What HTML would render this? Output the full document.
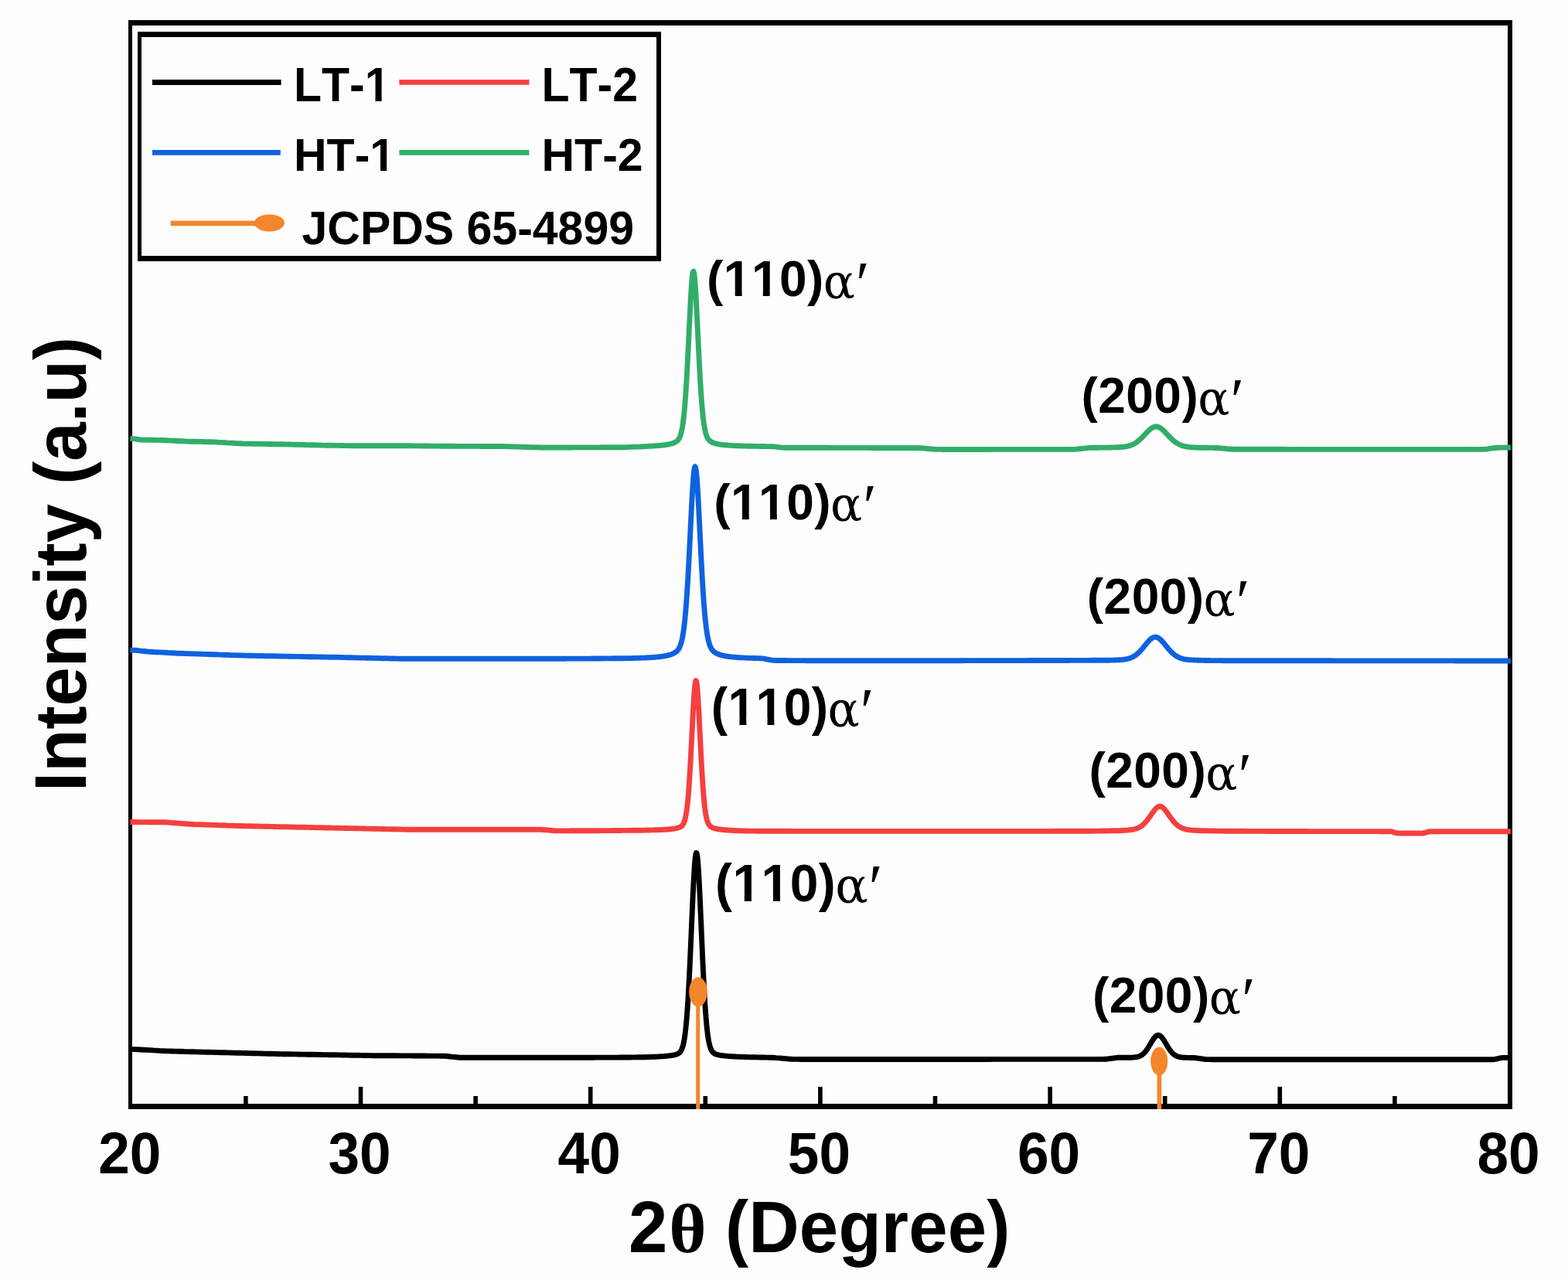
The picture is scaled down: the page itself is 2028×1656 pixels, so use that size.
<!DOCTYPE html>
<html><head><meta charset="utf-8"><title>XRD patterns</title>
<style>html,body{margin:0;padding:0;background:#fdfdfd;}body{width:2028px;height:1656px;overflow:hidden;}svg{display:block;}text{font-kerning:none;}</style>
</head><body>
<svg width="2028" height="1656" viewBox="0 0 2028 1656"><rect x="0" y="0" width="2028" height="1656" fill="#fdfdfd"/>
<g fill="#000">
<rect x="166" y="26" width="1790" height="7"/>
<rect x="166" y="1428" width="1790" height="7"/>
<rect x="166" y="26" width="5" height="1409"/>
<rect x="1950" y="26" width="6" height="1409"/>
<rect x="463.7" y="1406" width="5.6" height="24"/>
<rect x="760.9" y="1406" width="5.6" height="24"/>
<rect x="1058.1" y="1406" width="5.6" height="24"/>
<rect x="1355.3" y="1406" width="5.6" height="24"/>
<rect x="1652.5" y="1406" width="5.6" height="24"/>
<rect x="315.1" y="1418" width="5.6" height="12"/>
<rect x="612.3" y="1418" width="5.6" height="12"/>
<rect x="909.5" y="1418" width="5.6" height="12"/>
<rect x="1206.7" y="1418" width="5.6" height="12"/>
<rect x="1503.9" y="1418" width="5.6" height="12"/>
<rect x="1801.1" y="1418" width="5.6" height="12"/>
</g>
<polyline points="168.5,567.2 170.5,567.4 174.5,567.9 178.5,568.5 182.5,569.0 186.5,569.1 190.5,569.2 194.5,569.3 198.5,569.3 202.5,569.4 206.5,569.4 210.5,569.5 214.5,569.7 218.5,569.9 222.5,570.1 226.5,570.3 230.5,570.5 234.5,570.7 238.5,570.9 242.5,571.1 246.5,571.2 250.5,571.2 254.5,571.3 258.5,571.4 262.5,571.5 266.5,571.6 270.5,571.7 274.5,571.8 278.5,571.9 282.5,572.2 286.5,572.4 290.5,572.6 294.5,572.9 298.5,573.1 302.5,573.3 306.5,573.6 310.5,573.8 314.5,574.0 318.5,574.1 322.5,574.1 326.5,574.2 330.5,574.2 334.5,574.3 338.5,574.4 342.5,574.4 346.5,574.5 350.5,574.5 354.5,574.6 358.5,574.7 362.5,574.7 366.5,574.8 370.5,574.9 374.5,575.0 378.5,575.1 382.5,575.2 386.5,575.3 390.5,575.4 394.5,575.5 398.5,575.6 402.5,575.7 406.5,575.8 410.5,575.9 414.5,576.0 418.5,576.1 422.5,576.2 426.5,576.3 430.5,576.3 434.5,576.4 438.5,576.4 442.5,576.5 446.5,576.6 450.5,576.6 454.5,576.7 458.5,576.8 462.5,576.8 466.5,576.8 470.5,576.8 474.5,576.8 478.5,576.8 482.5,576.8 486.5,576.8 490.5,576.8 494.5,576.8 498.5,576.8 502.5,576.8 506.5,576.8 510.5,576.8 514.5,576.8 518.5,576.8 522.5,576.8 526.5,576.8 530.5,576.8 534.5,576.9 538.5,576.9 542.5,576.9 546.5,577.0 550.5,577.0 554.5,577.0 558.5,577.1 562.5,577.1 566.5,577.1 570.5,577.2 574.5,577.2 578.5,577.3 582.5,577.3 586.5,577.3 590.5,577.4 594.5,577.4 598.5,577.4 602.5,577.4 606.5,577.4 610.5,577.4 614.5,577.4 618.5,577.4 622.5,577.5 626.5,577.5 630.5,577.5 634.5,577.5 638.5,577.5 642.5,577.5 646.5,577.5 650.5,577.5 654.5,577.6 658.5,577.7 662.5,577.9 666.5,578.0 670.5,578.1 674.5,578.2 678.5,578.4 682.5,578.5 686.5,578.6 690.5,578.7 694.5,578.8 698.5,579.0 702.5,579.0 706.5,579.0 710.5,579.0 714.5,579.0 718.5,579.0 722.5,579.0 726.5,579.0 730.5,579.0 734.5,579.0 738.5,579.0 742.5,578.9 746.5,578.9 750.5,578.9 754.5,578.9 758.5,578.9 762.5,578.9 766.5,578.9 770.5,578.9 774.5,578.9 778.5,578.8 782.5,578.8 786.5,578.8 790.5,578.8 794.5,578.8 798.5,578.7 802.5,578.7 806.5,578.7 810.5,578.6 814.5,578.4 818.5,578.3 822.5,578.1 826.5,578.0 830.5,577.8 834.5,577.6 838.5,577.4 840.0,577.3 840.5,577.3 841.0,577.3 841.5,577.2 842.0,577.2 842.5,577.2 843.0,577.1 843.5,577.1 844.0,577.1 844.5,577.0 845.0,577.0 845.5,577.0 846.0,576.9 846.5,576.9 847.0,576.9 847.5,576.8 848.0,576.8 848.5,576.7 849.0,576.7 849.5,576.7 850.0,576.6 850.5,576.6 851.0,576.5 851.5,576.5 852.0,576.5 852.5,576.4 853.0,576.4 853.5,576.3 854.0,576.3 854.5,576.3 855.0,576.2 855.5,576.2 856.0,576.1 856.5,576.1 857.0,576.0 857.5,575.9 858.0,575.9 858.5,575.8 859.0,575.8 859.5,575.7 860.0,575.6 860.5,575.6 861.0,575.5 861.5,575.4 862.0,575.3 862.5,575.3 863.0,575.2 863.5,575.1 864.0,575.0 864.5,574.9 865.0,574.8 865.5,574.7 866.0,574.6 866.5,574.5 867.0,574.4 867.5,574.2 868.0,574.1 868.5,574.0 869.0,573.8 869.5,573.7 870.0,573.5 870.5,573.3 871.0,573.2 871.5,573.0 872.0,572.7 872.5,572.5 873.0,572.3 873.5,572.0 874.0,571.7 874.5,571.4 875.0,571.0 875.5,570.6 876.0,570.2 876.5,569.7 877.0,569.1 877.5,568.4 878.0,567.7 878.5,566.8 879.0,565.8 879.5,564.6 880.0,563.3 880.5,561.7 881.0,559.9 881.5,557.9 882.0,555.5 882.5,552.8 883.0,549.7 883.5,546.2 884.0,542.3 884.5,537.8 885.0,532.9 885.5,527.5 886.0,521.4 886.5,514.8 887.0,507.7 887.5,500.0 888.0,491.7 888.5,482.9 889.0,473.6 889.5,463.9 890.0,453.9 890.5,443.6 891.0,433.2 891.5,422.7 892.0,412.3 892.5,402.2 893.0,392.4 893.5,383.3 894.0,375.0 894.5,367.6 895.0,361.4 895.5,356.6 896.0,353.1 896.5,351.3 897.0,351.1 897.5,352.6 898.0,355.6 898.5,360.1 899.0,366.0 899.5,373.1 900.0,381.2 900.5,390.2 901.0,399.7 901.5,409.8 902.0,420.1 902.5,430.6 903.0,441.1 903.5,451.4 904.0,461.5 904.5,471.3 905.0,480.6 905.5,489.5 906.0,497.9 906.5,505.8 907.0,513.1 907.5,519.8 908.0,526.0 908.5,531.5 909.0,536.6 909.5,541.1 910.0,545.2 910.5,548.8 911.0,552.0 911.5,554.7 912.0,557.2 912.5,559.3 913.0,561.2 913.5,562.8 914.0,564.2 914.5,565.4 915.0,566.4 915.5,567.3 916.0,568.1 916.5,568.8 917.0,569.4 917.5,569.9 918.0,570.3 918.5,570.8 919.0,571.1 919.5,571.4 920.0,571.7 920.5,572.0 921.0,572.2 921.5,572.5 922.0,572.7 922.5,572.9 923.0,573.1 923.5,573.2 924.0,573.4 924.5,573.5 925.0,573.7 925.5,573.8 926.0,573.9 926.5,574.1 927.0,574.2 927.5,574.3 928.0,574.4 928.5,574.5 929.0,574.6 929.5,574.7 930.0,574.8 930.5,574.9 931.0,574.9 931.5,575.0 932.0,575.1 932.5,575.2 933.0,575.2 933.5,575.3 934.0,575.4 934.5,575.4 935.0,575.5 935.5,575.5 936.0,575.6 936.5,575.6 937.0,575.7 937.5,575.7 938.0,575.8 938.5,575.8 939.0,575.9 939.5,575.9 940.0,575.9 940.5,576.0 941.0,576.0 941.5,576.1 942.0,576.1 942.5,576.1 943.0,576.2 943.5,576.2 944.0,576.3 944.5,576.3 945.0,576.3 945.5,576.4 946.0,576.4 946.5,576.4 947.0,576.4 947.5,576.5 948.0,576.5 948.5,576.5 949.0,576.5 949.5,576.6 950.0,576.6 950.5,576.6 951.0,576.6 951.5,576.7 952.0,576.7 952.5,576.7 953.0,576.7 953.5,576.8 954.0,576.8 954.5,576.8 955.0,576.8 955.5,576.8 956.0,576.9 956.5,576.9 957.0,576.9 957.5,576.9 958.0,576.9 958.5,576.9 959.0,577.0 959.5,577.0 960.0,577.0 964.0,577.1 968.0,577.2 972.0,577.3 976.0,577.4 980.0,577.4 984.0,577.5 988.0,577.5 992.0,577.6 996.0,577.6 1000.0,577.7 1004.0,578.2 1008.0,578.6 1012.0,579.1 1016.0,579.2 1020.0,579.2 1024.0,579.2 1028.0,579.2 1032.0,579.2 1036.0,579.2 1040.0,579.3 1044.0,579.3 1048.0,579.3 1052.0,579.3 1056.0,579.3 1060.0,579.3 1064.0,579.3 1068.0,579.3 1072.0,579.3 1076.0,579.4 1080.0,579.4 1084.0,579.4 1088.0,579.4 1092.0,579.4 1096.0,579.4 1100.0,579.4 1104.0,579.4 1108.0,579.4 1112.0,579.4 1116.0,579.4 1120.0,579.4 1124.0,579.4 1128.0,579.5 1132.0,579.5 1136.0,579.5 1140.0,579.5 1144.0,579.5 1148.0,579.5 1152.0,579.5 1156.0,579.5 1160.0,579.5 1164.0,579.5 1168.0,579.5 1172.0,579.5 1176.0,579.5 1180.0,579.5 1184.0,579.5 1188.0,579.5 1192.0,579.7 1196.0,580.1 1200.0,580.5 1204.0,580.9 1208.0,581.3 1212.0,581.4 1216.0,581.4 1220.0,581.5 1224.0,581.5 1228.0,581.5 1232.0,581.5 1236.0,581.5 1240.0,581.5 1244.0,581.5 1248.0,581.5 1252.0,581.5 1256.0,581.5 1260.0,581.5 1264.0,581.5 1268.0,581.5 1272.0,581.5 1276.0,581.5 1280.0,581.5 1284.0,581.4 1288.0,581.4 1292.0,581.4 1296.0,581.4 1300.0,581.4 1304.0,581.4 1308.0,581.4 1312.0,581.4 1316.0,581.4 1320.0,581.4 1324.0,581.4 1328.0,581.4 1332.0,581.4 1336.0,581.4 1340.0,581.4 1344.0,581.4 1348.0,581.4 1352.0,581.4 1356.0,581.4 1360.0,581.4 1364.0,581.4 1368.0,581.4 1372.0,581.4 1376.0,581.4 1380.0,581.4 1384.0,581.4 1388.0,581.4 1392.0,581.2 1396.0,580.7 1400.0,580.3 1404.0,579.9 1408.0,579.4 1412.0,579.2 1416.0,579.2 1420.0,579.2 1421.0,579.1 1422.0,579.1 1423.0,579.1 1424.0,579.1 1425.0,579.1 1426.0,579.1 1427.0,579.1 1428.0,579.1 1429.0,579.1 1430.0,579.1 1431.0,579.0 1432.0,579.0 1433.0,579.0 1434.0,579.0 1435.0,579.0 1436.0,579.0 1437.0,579.0 1438.0,578.9 1439.0,578.9 1440.0,578.9 1441.0,578.9 1442.0,578.8 1443.0,578.8 1444.0,578.8 1445.0,578.7 1446.0,578.7 1447.0,578.7 1448.0,578.6 1449.0,578.5 1450.0,578.5 1451.0,578.4 1452.0,578.3 1453.0,578.2 1454.0,578.1 1455.0,577.9 1456.0,577.8 1457.0,577.6 1458.0,577.4 1459.0,577.2 1460.0,576.9 1461.0,576.6 1462.0,576.3 1463.0,575.9 1464.0,575.5 1465.0,575.1 1466.0,574.6 1467.0,574.1 1468.0,573.5 1469.0,572.8 1470.0,572.2 1471.0,571.4 1472.0,570.6 1473.0,569.8 1474.0,568.9 1475.0,568.0 1476.0,567.1 1477.0,566.1 1478.0,565.0 1479.0,564.0 1480.0,562.9 1481.0,561.9 1482.0,560.8 1483.0,559.8 1484.0,558.7 1485.0,557.7 1486.0,556.8 1487.0,555.9 1488.0,555.0 1489.0,554.3 1490.0,553.6 1491.0,553.0 1492.0,552.6 1493.0,552.2 1494.0,552.0 1495.0,551.9 1496.0,551.9 1497.0,552.1 1498.0,552.4 1499.0,552.8 1500.0,553.3 1501.0,553.9 1502.0,554.6 1503.0,555.4 1504.0,556.3 1505.0,557.2 1506.0,558.2 1507.0,559.2 1508.0,560.2 1509.0,561.3 1510.0,562.4 1511.0,563.4 1512.0,564.5 1513.0,565.5 1514.0,566.5 1515.0,567.5 1516.0,568.5 1517.0,569.4 1518.0,570.2 1519.0,571.1 1520.0,571.8 1521.0,572.5 1522.0,573.2 1523.0,573.8 1524.0,574.4 1525.0,574.9 1526.0,575.4 1527.0,575.8 1528.0,576.2 1529.0,576.6 1530.0,576.9 1531.0,577.2 1532.0,577.4 1533.0,577.6 1534.0,577.8 1535.0,578.0 1536.0,578.2 1537.0,578.3 1538.0,578.4 1539.0,578.5 1540.0,578.6 1541.0,578.7 1542.0,578.8 1543.0,578.8 1544.0,578.9 1545.0,578.9 1546.0,579.0 1547.0,579.0 1548.0,579.0 1549.0,579.1 1550.0,579.1 1551.0,579.1 1552.0,579.2 1553.0,579.2 1554.0,579.2 1555.0,579.2 1556.0,579.2 1557.0,579.3 1558.0,579.3 1559.0,579.3 1560.0,579.3 1561.0,579.3 1562.0,579.3 1563.0,579.4 1564.0,579.4 1565.0,579.4 1566.0,579.4 1567.0,579.4 1568.0,579.4 1569.0,579.4 1570.0,579.4 1571.0,579.5 1572.0,579.5 1573.0,579.5 1574.0,579.5 1575.0,579.5 1576.0,579.6 1577.0,579.7 1578.0,579.8 1579.0,579.9 1580.0,580.0 1584.0,580.3 1588.0,580.7 1592.0,581.0 1596.0,581.3 1600.0,581.3 1604.0,581.3 1608.0,581.3 1612.0,581.3 1616.0,581.3 1620.0,581.3 1624.0,581.3 1628.0,581.3 1632.0,581.3 1636.0,581.3 1640.0,581.3 1644.0,581.3 1648.0,581.3 1652.0,581.3 1656.0,581.3 1660.0,581.3 1664.0,581.4 1668.0,581.4 1672.0,581.4 1676.0,581.4 1680.0,581.4 1684.0,581.4 1688.0,581.4 1692.0,581.4 1696.0,581.4 1700.0,581.4 1704.0,581.4 1708.0,581.4 1712.0,581.4 1716.0,581.4 1720.0,581.4 1724.0,581.4 1728.0,581.4 1732.0,581.4 1736.0,581.4 1740.0,581.4 1744.0,581.4 1748.0,581.4 1752.0,581.4 1756.0,581.4 1760.0,581.4 1764.0,581.4 1768.0,581.4 1772.0,581.4 1776.0,581.4 1780.0,581.4 1784.0,581.4 1788.0,581.4 1792.0,581.4 1796.0,581.4 1800.0,581.4 1804.0,581.4 1808.0,581.4 1812.0,581.4 1816.0,581.4 1820.0,581.4 1824.0,581.4 1828.0,581.4 1832.0,581.4 1836.0,581.4 1840.0,581.4 1844.0,581.4 1848.0,581.4 1852.0,581.4 1856.0,581.4 1860.0,581.4 1864.0,581.4 1868.0,581.4 1872.0,581.4 1876.0,581.4 1880.0,581.4 1884.0,581.4 1888.0,581.4 1892.0,581.4 1896.0,581.4 1900.0,581.4 1904.0,581.4 1908.0,581.4 1912.0,581.4 1916.0,581.4 1920.0,581.4 1924.0,580.8 1928.0,580.2 1932.0,579.6 1936.0,579.2 1940.0,579.1 1944.0,579.1 1948.0,579.0 1952.0,579.0 1953.9,579.0" fill="none" stroke="#31AD6A" stroke-width="6.9" stroke-linejoin="round" stroke-linecap="butt"/>
<polyline points="168.5,841.0 170.5,841.1 174.5,841.3 178.5,841.6 182.5,842.1 186.5,842.5 190.5,843.0 194.5,843.2 198.5,843.5 202.5,843.7 206.5,843.9 210.5,844.1 214.5,844.3 218.5,844.6 222.5,844.8 226.5,845.0 230.5,845.2 234.5,845.3 238.5,845.5 242.5,845.6 246.5,845.7 250.5,845.9 254.5,846.0 258.5,846.1 262.5,846.3 266.5,846.4 270.5,846.5 274.5,846.7 278.5,846.8 282.5,846.9 286.5,847.1 290.5,847.2 294.5,847.3 298.5,847.5 302.5,847.6 306.5,847.7 310.5,847.9 314.5,848.0 318.5,848.1 322.5,848.2 326.5,848.3 330.5,848.4 334.5,848.5 338.5,848.5 342.5,848.6 346.5,848.7 350.5,848.8 354.5,848.8 358.5,848.9 362.5,849.0 366.5,849.1 370.5,849.1 374.5,849.2 378.5,849.3 382.5,849.4 386.5,849.4 390.5,849.5 394.5,849.6 398.5,849.7 402.5,849.7 406.5,849.8 410.5,849.9 414.5,850.0 418.5,850.0 422.5,850.1 426.5,850.2 430.5,850.3 434.5,850.3 438.5,850.4 442.5,850.5 446.5,850.6 450.5,850.7 454.5,850.8 458.5,850.9 462.5,851.0 466.5,851.1 470.5,851.1 474.5,851.2 478.5,851.3 482.5,851.4 486.5,851.5 490.5,851.6 494.5,851.7 498.5,851.8 502.5,851.9 506.5,852.0 510.5,852.0 514.5,852.1 518.5,852.2 522.5,852.3 526.5,852.3 530.5,852.3 534.5,852.3 538.5,852.3 542.5,852.3 546.5,852.3 550.5,852.3 554.5,852.3 558.5,852.3 562.5,852.3 566.5,852.3 570.5,852.3 574.5,852.3 578.5,852.3 582.5,852.3 586.5,852.3 590.5,852.3 594.5,852.3 598.5,852.3 602.5,852.3 606.5,852.3 610.5,852.3 614.5,852.3 618.5,852.3 622.5,852.3 626.5,852.3 630.5,852.2 634.5,852.2 638.5,852.2 642.5,852.2 646.5,852.2 650.5,852.2 654.5,852.2 658.5,852.2 662.5,852.2 666.5,852.2 670.5,852.2 674.5,852.2 678.5,852.2 682.5,852.2 686.5,852.2 690.5,852.2 694.5,852.2 698.5,852.2 702.5,852.2 706.5,852.2 710.5,852.2 714.5,852.2 718.5,852.2 722.5,852.2 726.5,852.2 730.5,852.2 734.5,852.1 738.5,852.1 742.5,852.1 746.5,852.1 750.5,852.1 754.5,852.1 758.5,852.1 762.5,852.1 766.5,852.0 770.5,852.0 774.5,852.0 778.5,852.0 782.5,851.9 786.5,851.9 790.5,851.9 794.5,851.8 798.5,851.8 802.5,851.7 806.5,851.7 810.5,851.6 814.5,851.6 818.5,851.5 822.5,851.4 826.5,851.3 830.5,851.1 834.5,851.0 838.5,850.8 840.0,850.7 840.5,850.7 841.0,850.7 841.5,850.6 842.0,850.6 842.5,850.6 843.0,850.5 843.5,850.5 844.0,850.5 844.5,850.4 845.0,850.4 845.5,850.4 846.0,850.3 846.5,850.3 847.0,850.2 847.5,850.2 848.0,850.2 848.5,850.1 849.0,850.1 849.5,850.0 850.0,850.0 850.5,849.9 851.0,849.9 851.5,849.8 852.0,849.8 852.5,849.7 853.0,849.7 853.5,849.6 854.0,849.5 854.5,849.5 855.0,849.4 855.5,849.4 856.0,849.3 856.5,849.2 857.0,849.1 857.5,849.1 858.0,849.0 858.5,848.9 859.0,848.8 859.5,848.7 860.0,848.7 860.5,848.6 861.0,848.5 861.5,848.4 862.0,848.3 862.5,848.1 863.0,848.0 863.5,847.9 864.0,847.8 864.5,847.7 865.0,847.5 865.5,847.4 866.0,847.3 866.5,847.1 867.0,846.9 867.5,846.8 868.0,846.6 868.5,846.4 869.0,846.2 869.5,846.0 870.0,845.8 870.5,845.6 871.0,845.4 871.5,845.1 872.0,844.8 872.5,844.6 873.0,844.3 873.5,843.9 874.0,843.6 874.5,843.2 875.0,842.7 875.5,842.3 876.0,841.8 876.5,841.2 877.0,840.6 877.5,839.9 878.0,839.1 878.5,838.2 879.0,837.2 879.5,836.0 880.0,834.8 880.5,833.3 881.0,831.7 881.5,829.8 882.0,827.8 882.5,825.5 883.0,822.8 883.5,819.9 884.0,816.7 884.5,813.0 885.0,809.0 885.5,804.6 886.0,799.7 886.5,794.4 887.0,788.6 887.5,782.3 888.0,775.5 888.5,768.2 889.0,760.5 889.5,752.3 890.0,743.6 890.5,734.5 891.0,725.1 891.5,715.4 892.0,705.4 892.5,695.3 893.0,685.1 893.5,674.9 894.0,664.8 894.5,655.1 895.0,645.7 895.5,636.9 896.0,628.8 896.5,621.6 897.0,615.4 897.5,610.5 898.0,606.8 898.5,604.5 899.0,603.7 899.5,604.4 900.0,606.5 900.5,610.1 901.0,615.0 901.5,621.1 902.0,628.2 902.5,636.2 903.0,645.0 903.5,654.3 904.0,664.1 904.5,674.1 905.0,684.3 905.5,694.5 906.0,704.6 906.5,714.6 907.0,724.4 907.5,733.8 908.0,742.9 908.5,751.6 909.0,759.9 909.5,767.6 910.0,775.0 910.5,781.8 911.0,788.1 911.5,793.9 912.0,799.3 912.5,804.2 913.0,808.7 913.5,812.8 914.0,816.4 914.5,819.7 915.0,822.7 915.5,825.3 916.0,827.6 916.5,829.7 917.0,831.6 917.5,833.2 918.0,834.7 918.5,836.0 919.0,837.1 919.5,838.1 920.0,839.0 920.5,839.8 921.0,840.6 921.5,841.2 922.0,841.8 922.5,842.3 923.0,842.8 923.5,843.2 924.0,843.6 924.5,843.9 925.0,844.3 925.5,844.6 926.0,844.9 926.5,845.2 927.0,845.4 927.5,845.6 928.0,845.9 928.5,846.1 929.0,846.3 929.5,846.5 930.0,846.7 930.5,846.8 931.0,847.0 931.5,847.2 932.0,847.3 932.5,847.5 933.0,847.6 933.5,847.7 934.0,847.9 934.5,848.0 935.0,848.1 935.5,848.2 936.0,848.3 936.5,848.4 937.0,848.5 937.5,848.6 938.0,848.7 938.5,848.8 939.0,848.9 939.5,849.0 940.0,849.1 940.5,849.1 941.0,849.2 941.5,849.3 942.0,849.4 942.5,849.4 943.0,849.5 943.5,849.6 944.0,849.6 944.5,849.7 945.0,849.8 945.5,849.8 946.0,849.9 946.5,849.9 947.0,850.0 947.5,850.0 948.0,850.1 948.5,850.1 949.0,850.2 949.5,850.2 950.0,850.3 950.5,850.3 951.0,850.3 951.5,850.4 952.0,850.4 952.5,850.5 953.0,850.5 953.5,850.5 954.0,850.6 954.5,850.6 955.0,850.6 955.5,850.7 956.0,850.7 956.5,850.7 957.0,850.7 957.5,850.8 958.0,850.8 958.5,850.8 959.0,850.9 959.5,850.9 960.0,850.9 964.0,851.1 968.0,851.3 972.0,851.4 976.0,851.5 980.0,851.6 984.0,851.7 988.0,852.2 992.0,853.0 996.0,853.7 1000.0,854.4 1004.0,854.5 1008.0,854.5 1012.0,854.5 1016.0,854.5 1020.0,854.6 1024.0,854.6 1028.0,854.6 1032.0,854.6 1036.0,854.6 1040.0,854.6 1044.0,854.7 1048.0,854.7 1052.0,854.7 1056.0,854.7 1060.0,854.7 1064.0,854.7 1068.0,854.7 1072.0,854.7 1076.0,854.7 1080.0,854.7 1084.0,854.7 1088.0,854.7 1092.0,854.7 1096.0,854.7 1100.0,854.7 1104.0,854.7 1108.0,854.7 1112.0,854.7 1116.0,854.7 1120.0,854.7 1124.0,854.7 1128.0,854.7 1132.0,854.7 1136.0,854.7 1140.0,854.7 1144.0,854.7 1148.0,854.7 1152.0,854.7 1156.0,854.7 1160.0,854.7 1164.0,854.7 1168.0,854.7 1172.0,854.7 1176.0,854.7 1180.0,854.7 1184.0,854.7 1188.0,854.7 1192.0,854.7 1196.0,854.7 1200.0,854.7 1204.0,854.7 1208.0,854.7 1212.0,854.7 1216.0,854.7 1220.0,854.7 1224.0,854.7 1228.0,854.7 1232.0,854.7 1236.0,854.7 1240.0,854.7 1244.0,854.7 1248.0,854.6 1252.0,854.6 1256.0,854.6 1260.0,854.6 1264.0,854.6 1268.0,854.6 1272.0,854.6 1276.0,854.6 1280.0,854.6 1284.0,854.6 1288.0,854.6 1292.0,854.6 1296.0,854.6 1300.0,854.6 1304.0,854.6 1308.0,854.6 1312.0,854.6 1316.0,854.6 1320.0,854.6 1324.0,854.6 1328.0,854.6 1332.0,854.5 1336.0,854.5 1340.0,854.5 1344.0,854.5 1348.0,854.5 1352.0,854.5 1356.0,854.5 1360.0,854.5 1364.0,854.5 1368.0,854.5 1372.0,854.5 1376.0,854.5 1380.0,854.5 1384.0,854.4 1388.0,854.4 1392.0,854.4 1396.0,854.4 1400.0,854.4 1404.0,854.4 1408.0,854.4 1412.0,854.3 1416.0,854.3 1420.0,854.3 1421.0,854.3 1422.0,854.3 1423.0,854.3 1424.0,854.3 1425.0,854.3 1426.0,854.2 1427.0,854.2 1428.0,854.2 1429.0,854.2 1430.0,854.2 1431.0,854.2 1432.0,854.2 1433.0,854.2 1434.0,854.2 1435.0,854.2 1436.0,854.1 1437.0,854.1 1438.0,854.1 1439.0,854.1 1440.0,854.1 1441.0,854.0 1442.0,854.0 1443.0,854.0 1444.0,853.9 1445.0,853.9 1446.0,853.8 1447.0,853.8 1448.0,853.7 1449.0,853.6 1450.0,853.6 1451.0,853.5 1452.0,853.4 1453.0,853.3 1454.0,853.1 1455.0,853.0 1456.0,852.8 1457.0,852.6 1458.0,852.4 1459.0,852.2 1460.0,851.9 1461.0,851.6 1462.0,851.3 1463.0,850.9 1464.0,850.4 1465.0,850.0 1466.0,849.4 1467.0,848.8 1468.0,848.2 1469.0,847.5 1470.0,846.7 1471.0,845.9 1472.0,845.0 1473.0,844.1 1474.0,843.1 1475.0,842.0 1476.0,840.9 1477.0,839.8 1478.0,838.6 1479.0,837.4 1480.0,836.1 1481.0,834.9 1482.0,833.7 1483.0,832.4 1484.0,831.3 1485.0,830.1 1486.0,829.0 1487.0,828.0 1488.0,827.1 1489.0,826.3 1490.0,825.6 1491.0,825.0 1492.0,824.6 1493.0,824.3 1494.0,824.1 1495.0,824.2 1496.0,824.4 1497.0,824.8 1498.0,825.3 1499.0,825.9 1500.0,826.7 1501.0,827.5 1502.0,828.5 1503.0,829.5 1504.0,830.7 1505.0,831.8 1506.0,833.0 1507.0,834.3 1508.0,835.5 1509.0,836.7 1510.0,838.0 1511.0,839.2 1512.0,840.3 1513.0,841.4 1514.0,842.5 1515.0,843.6 1516.0,844.5 1517.0,845.5 1518.0,846.3 1519.0,847.1 1520.0,847.9 1521.0,848.5 1522.0,849.2 1523.0,849.7 1524.0,850.2 1525.0,850.7 1526.0,851.1 1527.0,851.5 1528.0,851.8 1529.0,852.1 1530.0,852.3 1531.0,852.6 1532.0,852.8 1533.0,853.0 1534.0,853.1 1535.0,853.2 1536.0,853.4 1537.0,853.5 1538.0,853.6 1539.0,853.7 1540.0,853.7 1541.0,853.8 1542.0,853.9 1543.0,853.9 1544.0,854.0 1545.0,854.0 1546.0,854.1 1547.0,854.1 1548.0,854.1 1549.0,854.2 1550.0,854.2 1551.0,854.2 1552.0,854.3 1553.0,854.3 1554.0,854.3 1555.0,854.4 1556.0,854.4 1557.0,854.4 1558.0,854.5 1559.0,854.5 1560.0,854.5 1561.0,854.5 1562.0,854.5 1563.0,854.5 1564.0,854.5 1565.0,854.6 1566.0,854.6 1567.0,854.6 1568.0,854.6 1569.0,854.6 1570.0,854.6 1571.0,854.6 1572.0,854.6 1573.0,854.6 1574.0,854.6 1575.0,854.6 1576.0,854.6 1577.0,854.6 1578.0,854.6 1579.0,854.6 1580.0,854.6 1584.0,854.7 1588.0,854.7 1592.0,854.7 1596.0,854.7 1600.0,854.7 1604.0,854.7 1608.0,854.7 1612.0,854.7 1616.0,854.7 1620.0,854.7 1624.0,854.7 1628.0,854.8 1632.0,854.8 1636.0,854.8 1640.0,854.8 1644.0,854.8 1648.0,854.8 1652.0,854.8 1656.0,854.8 1660.0,854.8 1664.0,854.8 1668.0,854.8 1672.0,854.8 1676.0,854.8 1680.0,854.8 1684.0,854.8 1688.0,854.8 1692.0,854.8 1696.0,854.8 1700.0,854.8 1704.0,854.8 1708.0,854.8 1712.0,854.8 1716.0,854.8 1720.0,854.8 1724.0,854.9 1728.0,854.9 1732.0,854.9 1736.0,854.9 1740.0,854.9 1744.0,854.9 1748.0,854.9 1752.0,854.9 1756.0,854.9 1760.0,854.9 1764.0,854.9 1768.0,854.9 1772.0,854.9 1776.0,854.9 1780.0,854.9 1784.0,854.9 1788.0,854.9 1792.0,854.9 1796.0,854.9 1800.0,854.9 1804.0,854.9 1808.0,854.9 1812.0,854.9 1816.0,854.9 1820.0,854.9 1824.0,854.9 1828.0,854.9 1832.0,854.9 1836.0,854.9 1840.0,854.9 1844.0,854.9 1848.0,854.9 1852.0,854.9 1856.0,854.9 1860.0,854.9 1864.0,854.9 1868.0,854.9 1872.0,854.9 1876.0,854.9 1880.0,854.9 1884.0,855.0 1888.0,855.0 1892.0,855.0 1896.0,855.0 1900.0,855.0 1904.0,855.0 1908.0,855.0 1912.0,855.0 1916.0,855.0 1920.0,855.0 1924.0,855.0 1928.0,855.0 1932.0,855.0 1936.0,855.0 1940.0,855.0 1944.0,855.0 1948.0,855.0 1952.0,855.0 1953.9,855.0" fill="none" stroke="#0F62DE" stroke-width="6.9" stroke-linejoin="round" stroke-linecap="butt"/>
<polyline points="168.5,1063.5 170.5,1063.5 174.5,1063.5 178.5,1063.6 182.5,1063.6 186.5,1063.6 190.5,1063.6 194.5,1063.7 198.5,1063.7 202.5,1063.7 206.5,1063.7 210.5,1063.8 214.5,1063.8 218.5,1064.1 222.5,1064.5 226.5,1064.8 230.5,1065.1 234.5,1065.4 238.5,1065.7 242.5,1066.0 246.5,1066.3 250.5,1066.5 254.5,1066.6 258.5,1066.7 262.5,1066.9 266.5,1067.0 270.5,1067.1 274.5,1067.3 278.5,1067.4 282.5,1067.6 286.5,1067.7 290.5,1067.8 294.5,1068.0 298.5,1068.1 302.5,1068.3 306.5,1068.4 310.5,1068.5 314.5,1068.6 318.5,1068.7 322.5,1068.8 326.5,1068.9 330.5,1069.0 334.5,1069.0 338.5,1069.1 342.5,1069.2 346.5,1069.3 350.5,1069.4 354.5,1069.5 358.5,1069.6 362.5,1069.7 366.5,1069.7 370.5,1069.8 374.5,1069.9 378.5,1070.0 382.5,1070.1 386.5,1070.2 390.5,1070.3 394.5,1070.3 398.5,1070.4 402.5,1070.5 406.5,1070.6 410.5,1070.7 414.5,1070.8 418.5,1070.9 422.5,1071.0 426.5,1071.0 430.5,1071.1 434.5,1071.2 438.5,1071.3 442.5,1071.4 446.5,1071.5 450.5,1071.5 454.5,1071.6 458.5,1071.7 462.5,1071.8 466.5,1071.9 470.5,1072.0 474.5,1072.1 478.5,1072.1 482.5,1072.2 486.5,1072.3 490.5,1072.4 494.5,1072.5 498.5,1072.6 502.5,1072.6 506.5,1072.7 510.5,1072.8 514.5,1072.9 518.5,1073.0 522.5,1073.1 526.5,1073.2 530.5,1073.2 534.5,1073.2 538.5,1073.2 542.5,1073.2 546.5,1073.2 550.5,1073.2 554.5,1073.2 558.5,1073.2 562.5,1073.2 566.5,1073.2 570.5,1073.2 574.5,1073.2 578.5,1073.2 582.5,1073.2 586.5,1073.2 590.5,1073.2 594.5,1073.2 598.5,1073.2 602.5,1073.2 606.5,1073.2 610.5,1073.2 614.5,1073.2 618.5,1073.2 622.5,1073.2 626.5,1073.2 630.5,1073.2 634.5,1073.2 638.5,1073.2 642.5,1073.2 646.5,1073.2 650.5,1073.2 654.5,1073.2 658.5,1073.2 662.5,1073.2 666.5,1073.2 670.5,1073.2 674.5,1073.2 678.5,1073.2 682.5,1073.2 686.5,1073.2 690.5,1073.2 694.5,1073.2 698.5,1073.2 702.5,1073.5 706.5,1073.8 710.5,1074.1 714.5,1074.5 718.5,1074.8 722.5,1074.9 726.5,1074.9 730.5,1074.9 734.5,1074.9 738.5,1074.8 742.5,1074.8 746.5,1074.8 750.5,1074.8 754.5,1074.8 758.5,1074.7 762.5,1074.7 766.5,1074.7 770.5,1074.7 774.5,1074.7 778.5,1074.6 782.5,1074.6 786.5,1074.6 790.5,1074.6 794.5,1074.5 798.5,1074.5 802.5,1074.5 806.5,1074.4 810.5,1074.4 814.5,1074.4 818.5,1074.3 822.5,1074.3 826.5,1074.2 830.5,1074.2 834.5,1074.1 838.5,1074.0 840.0,1074.0 840.5,1074.0 841.0,1074.0 841.5,1073.9 842.0,1073.9 842.5,1073.9 843.0,1073.9 843.5,1073.9 844.0,1073.9 844.5,1073.9 845.0,1073.9 845.5,1073.8 846.0,1073.8 846.5,1073.8 847.0,1073.8 847.5,1073.8 848.0,1073.8 848.5,1073.7 849.0,1073.7 849.5,1073.7 850.0,1073.7 850.5,1073.7 851.0,1073.7 851.5,1073.6 852.0,1073.6 852.5,1073.6 853.0,1073.6 853.5,1073.6 854.0,1073.6 854.5,1073.5 855.0,1073.5 855.5,1073.5 856.0,1073.5 856.5,1073.4 857.0,1073.4 857.5,1073.4 858.0,1073.4 858.5,1073.3 859.0,1073.3 859.5,1073.3 860.0,1073.3 860.5,1073.2 861.0,1073.2 861.5,1073.2 862.0,1073.1 862.5,1073.1 863.0,1073.1 863.5,1073.0 864.0,1073.0 864.5,1072.9 865.0,1072.9 865.5,1072.9 866.0,1072.8 866.5,1072.8 867.0,1072.7 867.5,1072.7 868.0,1072.6 868.5,1072.5 869.0,1072.5 869.5,1072.4 870.0,1072.4 870.5,1072.3 871.0,1072.2 871.5,1072.1 872.0,1072.1 872.5,1072.0 873.0,1071.9 873.5,1071.8 874.0,1071.7 874.5,1071.6 875.0,1071.5 875.5,1071.4 876.0,1071.2 876.5,1071.1 877.0,1070.9 877.5,1070.8 878.0,1070.6 878.5,1070.4 879.0,1070.2 879.5,1070.0 880.0,1069.7 880.5,1069.4 881.0,1069.1 881.5,1068.7 882.0,1068.2 882.5,1067.7 883.0,1067.1 883.5,1066.3 884.0,1065.4 884.5,1064.4 885.0,1063.1 885.5,1061.7 886.0,1059.9 886.5,1057.9 887.0,1055.5 887.5,1052.7 888.0,1049.5 888.5,1045.9 889.0,1041.7 889.5,1036.9 890.0,1031.6 890.5,1025.7 891.0,1019.1 891.5,1012.0 892.0,1004.2 892.5,995.9 893.0,987.1 893.5,977.8 894.0,968.1 894.5,958.2 895.0,948.2 895.5,938.2 896.0,928.4 896.5,919.0 897.0,910.1 897.5,902.1 898.0,895.0 898.5,889.2 899.0,884.7 899.5,881.8 900.0,880.5 900.5,881.0 901.0,883.1 901.5,886.9 902.0,892.1 902.5,898.6 903.0,906.2 903.5,914.7 904.0,923.9 904.5,933.5 905.0,943.5 905.5,953.5 906.0,963.5 906.5,973.3 907.0,982.8 907.5,991.9 908.0,1000.4 908.5,1008.5 909.0,1015.9 909.5,1022.8 910.0,1029.0 910.5,1034.6 911.0,1039.7 911.5,1044.1 912.0,1048.0 912.5,1051.5 913.0,1054.4 913.5,1057.0 914.0,1059.2 914.5,1061.1 915.0,1062.7 915.5,1064.1 916.0,1065.2 916.5,1066.2 917.0,1067.0 917.5,1067.7 918.0,1068.3 918.5,1068.8 919.0,1069.2 919.5,1069.6 920.0,1069.9 920.5,1070.2 921.0,1070.5 921.5,1070.7 922.0,1070.9 922.5,1071.1 923.0,1071.3 923.5,1071.4 924.0,1071.6 924.5,1071.7 925.0,1071.8 925.5,1072.0 926.0,1072.1 926.5,1072.2 927.0,1072.3 927.5,1072.4 928.0,1072.5 928.5,1072.6 929.0,1072.7 929.5,1072.7 930.0,1072.8 930.5,1072.9 931.0,1073.0 931.5,1073.0 932.0,1073.1 932.5,1073.2 933.0,1073.2 933.5,1073.3 934.0,1073.4 934.5,1073.4 935.0,1073.5 935.5,1073.5 936.0,1073.6 936.5,1073.6 937.0,1073.7 937.5,1073.7 938.0,1073.8 938.5,1073.8 939.0,1073.8 939.5,1073.9 940.0,1073.9 940.5,1074.0 941.0,1074.0 941.5,1074.0 942.0,1074.1 942.5,1074.1 943.0,1074.1 943.5,1074.2 944.0,1074.2 944.5,1074.2 945.0,1074.3 945.5,1074.3 946.0,1074.3 946.5,1074.3 947.0,1074.4 947.5,1074.4 948.0,1074.4 948.5,1074.4 949.0,1074.5 949.5,1074.5 950.0,1074.5 950.5,1074.5 951.0,1074.6 951.5,1074.6 952.0,1074.6 952.5,1074.6 953.0,1074.7 953.5,1074.7 954.0,1074.7 954.5,1074.7 955.0,1074.7 955.5,1074.8 956.0,1074.8 956.5,1074.8 957.0,1074.8 957.5,1074.8 958.0,1074.9 958.5,1074.9 959.0,1074.9 959.5,1074.9 960.0,1074.9 964.0,1075.0 968.0,1075.1 972.0,1075.1 976.0,1075.1 980.0,1075.2 984.0,1075.2 988.0,1075.2 992.0,1075.3 996.0,1075.3 1000.0,1075.3 1004.0,1075.3 1008.0,1075.3 1012.0,1075.3 1016.0,1075.3 1020.0,1075.3 1024.0,1075.4 1028.0,1075.4 1032.0,1075.4 1036.0,1075.4 1040.0,1075.4 1044.0,1075.4 1048.0,1075.4 1052.0,1075.4 1056.0,1075.4 1060.0,1075.4 1064.0,1075.4 1068.0,1075.4 1072.0,1075.4 1076.0,1075.4 1080.0,1075.4 1084.0,1075.4 1088.0,1075.4 1092.0,1075.4 1096.0,1075.4 1100.0,1075.4 1104.0,1075.4 1108.0,1075.4 1112.0,1075.4 1116.0,1075.4 1120.0,1075.4 1124.0,1075.4 1128.0,1075.4 1132.0,1075.4 1136.0,1075.4 1140.0,1075.4 1144.0,1075.4 1148.0,1075.4 1152.0,1075.4 1156.0,1075.4 1160.0,1075.4 1164.0,1075.4 1168.0,1075.4 1172.0,1075.4 1176.0,1075.4 1180.0,1075.4 1184.0,1075.4 1188.0,1075.4 1192.0,1075.4 1196.0,1075.4 1200.0,1075.4 1204.0,1075.4 1208.0,1075.4 1212.0,1075.4 1216.0,1075.4 1220.0,1075.4 1224.0,1075.4 1228.0,1075.4 1232.0,1075.4 1236.0,1075.4 1240.0,1075.4 1244.0,1075.4 1248.0,1075.4 1252.0,1075.4 1256.0,1075.4 1260.0,1075.4 1264.0,1075.4 1268.0,1075.4 1272.0,1075.4 1276.0,1075.4 1280.0,1075.4 1284.0,1075.4 1288.0,1075.4 1292.0,1075.4 1296.0,1075.4 1300.0,1075.4 1304.0,1075.4 1308.0,1075.4 1312.0,1075.4 1316.0,1075.4 1320.0,1075.4 1324.0,1075.4 1328.0,1075.4 1332.0,1075.4 1336.0,1075.4 1340.0,1075.4 1344.0,1075.4 1348.0,1075.4 1352.0,1075.4 1356.0,1075.4 1360.0,1075.4 1364.0,1075.3 1368.0,1075.3 1372.0,1075.3 1376.0,1075.3 1380.0,1075.3 1384.0,1075.3 1388.0,1075.3 1392.0,1075.3 1396.0,1075.2 1400.0,1075.2 1404.0,1075.2 1408.0,1075.2 1412.0,1075.2 1416.0,1075.1 1420.0,1075.1 1421.0,1075.1 1422.0,1075.1 1423.0,1075.1 1424.0,1075.0 1425.0,1075.0 1426.0,1075.0 1427.0,1075.0 1428.0,1075.0 1429.0,1075.0 1430.0,1075.0 1431.0,1075.0 1432.0,1074.9 1433.0,1074.9 1434.0,1074.9 1435.0,1074.9 1436.0,1074.9 1437.0,1074.9 1438.0,1074.8 1439.0,1074.8 1440.0,1074.8 1441.0,1074.8 1442.0,1074.7 1443.0,1074.7 1444.0,1074.7 1445.0,1074.7 1446.0,1074.6 1447.0,1074.6 1448.0,1074.6 1449.0,1074.5 1450.0,1074.5 1451.0,1074.5 1452.0,1074.4 1453.0,1074.4 1454.0,1074.3 1455.0,1074.3 1456.0,1074.2 1457.0,1074.1 1458.0,1074.1 1459.0,1074.0 1460.0,1073.9 1461.0,1073.8 1462.0,1073.7 1463.0,1073.5 1464.0,1073.4 1465.0,1073.2 1466.0,1073.0 1467.0,1072.8 1468.0,1072.5 1469.0,1072.2 1470.0,1071.9 1471.0,1071.5 1472.0,1071.1 1473.0,1070.6 1474.0,1070.1 1475.0,1069.5 1476.0,1068.8 1477.0,1068.1 1478.0,1067.2 1479.0,1066.4 1480.0,1065.4 1481.0,1064.4 1482.0,1063.3 1483.0,1062.1 1484.0,1060.8 1485.0,1059.5 1486.0,1058.2 1487.0,1056.8 1488.0,1055.4 1489.0,1053.9 1490.0,1052.5 1491.0,1051.1 1492.0,1049.7 1493.0,1048.4 1494.0,1047.1 1495.0,1046.0 1496.0,1045.1 1497.0,1044.3 1498.0,1043.7 1499.0,1043.3 1500.0,1043.2 1501.0,1043.2 1502.0,1043.6 1503.0,1044.1 1504.0,1044.8 1505.0,1045.7 1506.0,1046.8 1507.0,1048.0 1508.0,1049.3 1509.0,1050.6 1510.0,1052.0 1511.0,1053.5 1512.0,1054.9 1513.0,1056.3 1514.0,1057.8 1515.0,1059.1 1516.0,1060.4 1517.0,1061.7 1518.0,1062.9 1519.0,1064.0 1520.0,1065.1 1521.0,1066.1 1522.0,1067.0 1523.0,1067.8 1524.0,1068.6 1525.0,1069.3 1526.0,1069.9 1527.0,1070.5 1528.0,1071.0 1529.0,1071.4 1530.0,1071.8 1531.0,1072.1 1532.0,1072.4 1533.0,1072.7 1534.0,1073.0 1535.0,1073.2 1536.0,1073.3 1537.0,1073.5 1538.0,1073.6 1539.0,1073.8 1540.0,1073.9 1541.0,1074.0 1542.0,1074.1 1543.0,1074.1 1544.0,1074.2 1545.0,1074.3 1546.0,1074.3 1547.0,1074.4 1548.0,1074.4 1549.0,1074.5 1550.0,1074.5 1551.0,1074.6 1552.0,1074.6 1553.0,1074.6 1554.0,1074.7 1555.0,1074.7 1556.0,1074.7 1557.0,1074.8 1558.0,1074.8 1559.0,1074.8 1560.0,1074.8 1561.0,1074.9 1562.0,1074.9 1563.0,1074.9 1564.0,1074.9 1565.0,1074.9 1566.0,1074.9 1567.0,1075.0 1568.0,1075.0 1569.0,1075.0 1570.0,1075.0 1571.0,1075.0 1572.0,1075.0 1573.0,1075.1 1574.0,1075.1 1575.0,1075.1 1576.0,1075.1 1577.0,1075.1 1578.0,1075.1 1579.0,1075.1 1580.0,1075.1 1584.0,1075.2 1588.0,1075.2 1592.0,1075.2 1596.0,1075.3 1600.0,1075.3 1604.0,1075.3 1608.0,1075.3 1612.0,1075.4 1616.0,1075.4 1620.0,1075.4 1624.0,1075.4 1628.0,1075.4 1632.0,1075.4 1636.0,1075.4 1640.0,1075.5 1644.0,1075.5 1648.0,1075.5 1652.0,1075.5 1656.0,1075.5 1660.0,1075.5 1664.0,1075.5 1668.0,1075.5 1672.0,1075.5 1676.0,1075.5 1680.0,1075.5 1684.0,1075.5 1688.0,1075.5 1692.0,1075.6 1696.0,1075.6 1700.0,1075.6 1704.0,1075.6 1708.0,1075.6 1712.0,1075.6 1716.0,1075.6 1720.0,1075.6 1724.0,1075.6 1728.0,1075.6 1732.0,1075.6 1736.0,1075.6 1740.0,1075.6 1744.0,1075.6 1748.0,1075.6 1752.0,1075.6 1756.0,1075.6 1760.0,1075.6 1764.0,1075.6 1768.0,1075.6 1772.0,1075.6 1776.0,1075.6 1780.0,1075.6 1784.0,1075.7 1788.0,1075.7 1792.0,1075.7 1796.0,1075.7 1800.0,1075.7 1804.0,1077.2 1808.0,1078.0 1812.0,1078.0 1816.0,1078.0 1820.0,1078.0 1824.0,1078.0 1828.0,1078.0 1832.0,1078.0 1836.0,1078.0 1840.0,1078.0 1844.0,1077.2 1848.0,1075.7 1852.0,1075.7 1856.0,1075.7 1860.0,1075.7 1864.0,1075.7 1868.0,1075.7 1872.0,1075.7 1876.0,1075.7 1880.0,1075.7 1884.0,1075.7 1888.0,1075.7 1892.0,1075.7 1896.0,1075.7 1900.0,1075.7 1904.0,1075.7 1908.0,1075.7 1912.0,1075.7 1916.0,1075.7 1920.0,1075.7 1924.0,1075.7 1928.0,1075.7 1932.0,1075.7 1936.0,1075.7 1940.0,1075.7 1944.0,1075.7 1948.0,1075.7 1952.0,1075.7 1953.9,1075.7" fill="none" stroke="#F4403F" stroke-width="6.9" stroke-linejoin="round" stroke-linecap="butt"/>
<polyline points="168.5,1357.3 170.5,1357.4 174.5,1357.6 178.5,1357.8 182.5,1358.0 186.5,1358.2 190.5,1358.4 194.5,1358.6 198.5,1358.9 202.5,1359.1 206.5,1359.4 210.5,1359.6 214.5,1359.8 218.5,1359.9 222.5,1360.0 226.5,1360.1 230.5,1360.2 234.5,1360.3 238.5,1360.5 242.5,1360.6 246.5,1360.7 250.5,1360.8 254.5,1360.9 258.5,1361.0 262.5,1361.1 266.5,1361.2 270.5,1361.3 274.5,1361.4 278.5,1361.5 282.5,1361.6 286.5,1361.7 290.5,1361.8 294.5,1361.9 298.5,1362.0 302.5,1362.1 306.5,1362.2 310.5,1362.3 314.5,1362.4 318.5,1362.5 322.5,1362.6 326.5,1362.7 330.5,1362.8 334.5,1362.9 338.5,1363.0 342.5,1363.1 346.5,1363.2 350.5,1363.3 354.5,1363.4 358.5,1363.5 362.5,1363.6 366.5,1363.7 370.5,1363.7 374.5,1363.8 378.5,1363.9 382.5,1363.9 386.5,1364.0 390.5,1364.1 394.5,1364.1 398.5,1364.2 402.5,1364.3 406.5,1364.3 410.5,1364.4 414.5,1364.5 418.5,1364.6 422.5,1364.6 426.5,1364.7 430.5,1364.8 434.5,1364.8 438.5,1364.9 442.5,1365.0 446.5,1365.0 450.5,1365.1 454.5,1365.2 458.5,1365.2 462.5,1365.3 466.5,1365.4 470.5,1365.5 474.5,1365.5 478.5,1365.6 482.5,1365.7 486.5,1365.7 490.5,1365.7 494.5,1365.7 498.5,1365.8 502.5,1365.8 506.5,1365.8 510.5,1365.8 514.5,1365.8 518.5,1365.9 522.5,1365.9 526.5,1365.9 530.5,1365.9 534.5,1366.0 538.5,1366.0 542.5,1366.0 546.5,1366.0 550.5,1366.0 554.5,1366.1 558.5,1366.1 562.5,1366.1 566.5,1366.1 570.5,1366.2 574.5,1366.2 578.5,1366.5 582.5,1367.0 586.5,1367.4 590.5,1367.8 594.5,1368.2 598.5,1368.3 602.5,1368.3 606.5,1368.3 610.5,1368.3 614.5,1368.3 618.5,1368.3 622.5,1368.3 626.5,1368.3 630.5,1368.3 634.5,1368.3 638.5,1368.3 642.5,1368.3 646.5,1368.3 650.5,1368.3 654.5,1368.3 658.5,1368.3 662.5,1368.3 666.5,1368.3 670.5,1368.3 674.5,1368.2 678.5,1368.2 682.5,1368.2 686.5,1368.2 690.5,1368.2 694.5,1368.2 698.5,1368.2 702.5,1368.2 706.5,1368.2 710.5,1368.2 714.5,1368.2 718.5,1368.2 722.5,1368.2 726.5,1368.2 730.5,1368.2 734.5,1368.2 738.5,1368.2 742.5,1368.2 746.5,1368.2 750.5,1368.2 754.5,1368.2 758.5,1368.2 762.5,1368.2 766.5,1368.2 770.5,1368.1 774.5,1368.1 778.5,1368.1 782.5,1368.1 786.5,1368.1 790.5,1368.1 794.5,1368.1 798.5,1368.1 802.5,1368.0 806.5,1368.0 810.5,1368.0 814.5,1368.0 818.5,1367.9 822.5,1367.9 826.5,1367.8 830.5,1367.8 834.5,1367.7 838.5,1367.5 840.0,1367.5 840.5,1367.5 841.0,1367.5 841.5,1367.4 842.0,1367.4 842.5,1367.4 843.0,1367.4 843.5,1367.4 844.0,1367.3 844.5,1367.3 845.0,1367.3 845.5,1367.3 846.0,1367.3 846.5,1367.2 847.0,1367.2 847.5,1367.2 848.0,1367.2 848.5,1367.2 849.0,1367.1 849.5,1367.1 850.0,1367.1 850.5,1367.1 851.0,1367.0 851.5,1367.0 852.0,1367.0 852.5,1366.9 853.0,1366.9 853.5,1366.9 854.0,1366.9 854.5,1366.8 855.0,1366.8 855.5,1366.8 856.0,1366.7 856.5,1366.7 857.0,1366.7 857.5,1366.6 858.0,1366.6 858.5,1366.6 859.0,1366.5 859.5,1366.5 860.0,1366.4 860.5,1366.4 861.0,1366.4 861.5,1366.3 862.0,1366.3 862.5,1366.2 863.0,1366.2 863.5,1366.1 864.0,1366.1 864.5,1366.0 865.0,1365.9 865.5,1365.9 866.0,1365.8 866.5,1365.8 867.0,1365.7 867.5,1365.6 868.0,1365.6 868.5,1365.5 869.0,1365.4 869.5,1365.3 870.0,1365.2 870.5,1365.1 871.0,1365.1 871.5,1365.0 872.0,1364.8 872.5,1364.7 873.0,1364.6 873.5,1364.5 874.0,1364.3 874.5,1364.2 875.0,1364.0 875.5,1363.8 876.0,1363.6 876.5,1363.4 877.0,1363.2 877.5,1362.9 878.0,1362.5 878.5,1362.1 879.0,1361.7 879.5,1361.2 880.0,1360.6 880.5,1359.9 881.0,1359.0 881.5,1358.1 882.0,1356.9 882.5,1355.6 883.0,1354.1 883.5,1352.3 884.0,1350.2 884.5,1347.8 885.0,1345.1 885.5,1342.0 886.0,1338.4 886.5,1334.4 887.0,1329.9 887.5,1324.9 888.0,1319.3 888.5,1313.1 889.0,1306.3 889.5,1298.9 890.0,1290.9 890.5,1282.3 891.0,1273.1 891.5,1263.3 892.0,1253.0 892.5,1242.3 893.0,1231.2 893.5,1219.8 894.0,1208.2 894.5,1196.5 895.0,1184.9 895.5,1173.5 896.0,1162.4 896.5,1151.8 897.0,1141.8 897.5,1132.7 898.0,1124.6 898.5,1117.5 899.0,1111.8 899.5,1107.4 900.0,1104.6 900.5,1103.3 901.0,1103.6 901.5,1105.4 902.0,1108.9 902.5,1113.7 903.0,1119.9 903.5,1127.4 904.0,1135.9 904.5,1145.3 905.0,1155.5 905.5,1166.3 906.0,1177.6 906.5,1189.1 907.0,1200.7 907.5,1212.4 908.0,1223.9 908.5,1235.2 909.0,1246.2 909.5,1256.8 910.0,1266.9 910.5,1276.4 911.0,1285.5 911.5,1293.9 912.0,1301.7 912.5,1308.8 913.0,1315.4 913.5,1321.4 914.0,1326.8 914.5,1331.6 915.0,1335.9 915.5,1339.8 916.0,1343.1 916.5,1346.1 917.0,1348.7 917.5,1351.0 918.0,1352.9 918.5,1354.6 919.0,1356.1 919.5,1357.3 920.0,1358.4 920.5,1359.3 921.0,1360.1 921.5,1360.8 922.0,1361.4 922.5,1361.8 923.0,1362.3 923.5,1362.6 924.0,1363.0 924.5,1363.2 925.0,1363.5 925.5,1363.7 926.0,1363.9 926.5,1364.1 927.0,1364.2 927.5,1364.4 928.0,1364.5 928.5,1364.6 929.0,1364.7 929.5,1364.9 930.0,1365.0 930.5,1365.1 931.0,1365.1 931.5,1365.2 932.0,1365.3 932.5,1365.4 933.0,1365.5 933.5,1365.5 934.0,1365.6 934.5,1365.7 935.0,1365.7 935.5,1365.8 936.0,1365.9 936.5,1365.9 937.0,1366.0 937.5,1366.0 938.0,1366.1 938.5,1366.1 939.0,1366.2 939.5,1366.2 940.0,1366.3 940.5,1366.3 941.0,1366.4 941.5,1366.4 942.0,1366.4 942.5,1366.5 943.0,1366.5 943.5,1366.6 944.0,1366.6 944.5,1366.6 945.0,1366.7 945.5,1366.7 946.0,1366.7 946.5,1366.8 947.0,1366.8 947.5,1366.8 948.0,1366.8 948.5,1366.9 949.0,1366.9 949.5,1366.9 950.0,1367.0 950.5,1367.0 951.0,1367.0 951.5,1367.0 952.0,1367.1 952.5,1367.1 953.0,1367.1 953.5,1367.1 954.0,1367.1 954.5,1367.2 955.0,1367.2 955.5,1367.2 956.0,1367.2 956.5,1367.2 957.0,1367.3 957.5,1367.3 958.0,1367.3 958.5,1367.3 959.0,1367.3 959.5,1367.4 960.0,1367.4 964.0,1367.5 968.0,1367.6 972.0,1367.7 976.0,1367.8 980.0,1367.9 984.0,1368.0 988.0,1368.0 992.0,1368.1 996.0,1368.2 1000.0,1368.2 1004.0,1368.6 1008.0,1368.9 1012.0,1369.3 1016.0,1369.6 1020.0,1370.0 1024.0,1370.3 1028.0,1370.4 1032.0,1370.4 1036.0,1370.5 1040.0,1370.5 1044.0,1370.5 1048.0,1370.5 1052.0,1370.5 1056.0,1370.5 1060.0,1370.5 1064.0,1370.5 1068.0,1370.5 1072.0,1370.5 1076.0,1370.5 1080.0,1370.5 1084.0,1370.5 1088.0,1370.5 1092.0,1370.5 1096.0,1370.5 1100.0,1370.5 1104.0,1370.5 1108.0,1370.5 1112.0,1370.5 1116.0,1370.5 1120.0,1370.5 1124.0,1370.5 1128.0,1370.5 1132.0,1370.5 1136.0,1370.5 1140.0,1370.5 1144.0,1370.5 1148.0,1370.5 1152.0,1370.5 1156.0,1370.5 1160.0,1370.5 1164.0,1370.5 1168.0,1370.5 1172.0,1370.5 1176.0,1370.5 1180.0,1370.5 1184.0,1370.5 1188.0,1370.5 1192.0,1370.5 1196.0,1370.5 1200.0,1370.5 1204.0,1370.5 1208.0,1370.5 1212.0,1370.5 1216.0,1370.5 1220.0,1370.5 1224.0,1370.5 1228.0,1370.5 1232.0,1370.5 1236.0,1370.5 1240.0,1370.5 1244.0,1370.5 1248.0,1370.5 1252.0,1370.5 1256.0,1370.5 1260.0,1370.5 1264.0,1370.5 1268.0,1370.5 1272.0,1370.5 1276.0,1370.5 1280.0,1370.5 1284.0,1370.4 1288.0,1370.4 1292.0,1370.4 1296.0,1370.4 1300.0,1370.4 1304.0,1370.4 1308.0,1370.4 1312.0,1370.4 1316.0,1370.4 1320.0,1370.4 1324.0,1370.4 1328.0,1370.4 1332.0,1370.4 1336.0,1370.4 1340.0,1370.4 1344.0,1370.4 1348.0,1370.4 1352.0,1370.4 1356.0,1370.4 1360.0,1370.4 1364.0,1370.4 1368.0,1370.4 1372.0,1370.4 1376.0,1370.4 1380.0,1370.4 1384.0,1370.4 1388.0,1370.4 1392.0,1370.4 1396.0,1370.4 1400.0,1370.4 1404.0,1370.4 1408.0,1370.4 1412.0,1370.4 1416.0,1370.4 1420.0,1370.4 1421.0,1370.4 1422.0,1370.4 1423.0,1370.4 1424.0,1370.4 1425.0,1370.4 1426.0,1370.4 1427.0,1370.4 1428.0,1370.3 1429.0,1370.3 1430.0,1370.3 1431.0,1370.2 1432.0,1370.1 1433.0,1369.9 1434.0,1369.8 1435.0,1369.7 1436.0,1369.5 1437.0,1369.4 1438.0,1369.3 1439.0,1369.1 1440.0,1369.0 1441.0,1368.9 1442.0,1368.7 1443.0,1368.6 1444.0,1368.5 1445.0,1368.3 1446.0,1368.3 1447.0,1368.3 1448.0,1368.3 1449.0,1368.3 1450.0,1368.3 1451.0,1368.3 1452.0,1368.3 1453.0,1368.3 1454.0,1368.3 1455.0,1368.3 1456.0,1368.3 1457.0,1368.3 1458.0,1368.3 1459.0,1368.2 1460.0,1368.2 1461.0,1368.2 1462.0,1368.2 1463.0,1368.2 1464.0,1368.1 1465.0,1368.1 1466.0,1368.0 1467.0,1367.9 1468.0,1367.8 1469.0,1367.7 1470.0,1367.5 1471.0,1367.3 1472.0,1367.1 1473.0,1366.7 1474.0,1366.4 1475.0,1365.9 1476.0,1365.3 1477.0,1364.7 1478.0,1363.9 1479.0,1363.1 1480.0,1362.1 1481.0,1361.0 1482.0,1359.8 1483.0,1358.4 1484.0,1357.0 1485.0,1355.4 1486.0,1353.8 1487.0,1352.1 1488.0,1350.4 1489.0,1348.7 1490.0,1347.1 1491.0,1345.5 1492.0,1344.0 1493.0,1342.6 1494.0,1341.5 1495.0,1340.5 1496.0,1339.8 1497.0,1339.4 1498.0,1339.2 1499.0,1339.4 1500.0,1339.8 1501.0,1340.5 1502.0,1341.4 1503.0,1342.5 1504.0,1343.9 1505.0,1345.3 1506.0,1346.9 1507.0,1348.6 1508.0,1350.3 1509.0,1352.0 1510.0,1353.7 1511.0,1355.3 1512.0,1356.9 1513.0,1358.4 1514.0,1359.7 1515.0,1361.0 1516.0,1362.1 1517.0,1363.1 1518.0,1364.0 1519.0,1364.7 1520.0,1365.4 1521.0,1365.9 1522.0,1366.4 1523.0,1366.8 1524.0,1367.1 1525.0,1367.4 1526.0,1367.6 1527.0,1367.8 1528.0,1367.9 1529.0,1368.0 1530.0,1368.1 1531.0,1368.2 1532.0,1368.3 1533.0,1368.3 1534.0,1368.3 1535.0,1368.4 1536.0,1368.4 1537.0,1368.4 1538.0,1368.4 1539.0,1368.4 1540.0,1368.5 1541.0,1368.5 1542.0,1368.5 1543.0,1368.5 1544.0,1368.5 1545.0,1368.5 1546.0,1368.6 1547.0,1368.8 1548.0,1368.9 1549.0,1369.1 1550.0,1369.2 1551.0,1369.4 1552.0,1369.5 1553.0,1369.6 1554.0,1369.8 1555.0,1369.9 1556.0,1370.1 1557.0,1370.2 1558.0,1370.4 1559.0,1370.5 1560.0,1370.6 1561.0,1370.6 1562.0,1370.6 1563.0,1370.6 1564.0,1370.6 1565.0,1370.6 1566.0,1370.6 1567.0,1370.7 1568.0,1370.7 1569.0,1370.7 1570.0,1370.7 1571.0,1370.7 1572.0,1370.7 1573.0,1370.7 1574.0,1370.7 1575.0,1370.7 1576.0,1370.7 1577.0,1370.7 1578.0,1370.7 1579.0,1370.7 1580.0,1370.7 1584.0,1370.7 1588.0,1370.7 1592.0,1370.7 1596.0,1370.7 1600.0,1370.7 1604.0,1370.7 1608.0,1370.7 1612.0,1370.7 1616.0,1370.7 1620.0,1370.7 1624.0,1370.7 1628.0,1370.7 1632.0,1370.7 1636.0,1370.7 1640.0,1370.7 1644.0,1370.7 1648.0,1370.7 1652.0,1370.7 1656.0,1370.7 1660.0,1370.7 1664.0,1370.7 1668.0,1370.7 1672.0,1370.7 1676.0,1370.7 1680.0,1370.7 1684.0,1370.7 1688.0,1370.7 1692.0,1370.7 1696.0,1370.7 1700.0,1370.7 1704.0,1370.7 1708.0,1370.7 1712.0,1370.7 1716.0,1370.7 1720.0,1370.7 1724.0,1370.7 1728.0,1370.7 1732.0,1370.7 1736.0,1370.7 1740.0,1370.7 1744.0,1370.7 1748.0,1370.7 1752.0,1370.7 1756.0,1370.7 1760.0,1370.7 1764.0,1370.7 1768.0,1370.7 1772.0,1370.7 1776.0,1370.7 1780.0,1370.7 1784.0,1370.7 1788.0,1370.7 1792.0,1370.7 1796.0,1370.7 1800.0,1370.7 1804.0,1370.7 1808.0,1370.7 1812.0,1370.7 1816.0,1370.7 1820.0,1370.7 1824.0,1370.7 1828.0,1370.7 1832.0,1370.7 1836.0,1370.7 1840.0,1370.7 1844.0,1370.7 1848.0,1370.7 1852.0,1370.7 1856.0,1370.7 1860.0,1370.7 1864.0,1370.7 1868.0,1370.7 1872.0,1370.7 1876.0,1370.7 1880.0,1370.7 1884.0,1370.7 1888.0,1370.7 1892.0,1370.7 1896.0,1370.7 1900.0,1370.7 1904.0,1370.7 1908.0,1370.7 1912.0,1370.7 1916.0,1370.7 1920.0,1370.7 1924.0,1370.7 1928.0,1370.7 1932.0,1370.7 1936.0,1369.8 1940.0,1368.9 1944.0,1368.4 1948.0,1368.4 1952.0,1368.4 1953.9,1368.4" fill="none" stroke="#000000" stroke-width="6.9" stroke-linejoin="round" stroke-linecap="butt"/>
<g fill="#F5852A">
<rect x="900.2" y="1283" width="5" height="152"/>
<ellipse cx="903" cy="1283.2" rx="11.8" ry="19"/>
<rect x="1496.6" y="1373" width="5.6" height="62"/>
<ellipse cx="1499.2" cy="1373.1" rx="11" ry="18.4"/>
</g>
<text transform="translate(167.80,1517.60) scale(1,1.035)" font-family="'Liberation Sans', Arial, sans-serif" font-weight="bold" fill="#000" font-size="73" text-anchor="middle">20</text>
<text transform="translate(465.00,1517.60) scale(1,1.035)" font-family="'Liberation Sans', Arial, sans-serif" font-weight="bold" fill="#000" font-size="73" text-anchor="middle">30</text>
<text transform="translate(762.20,1517.60) scale(1,1.035)" font-family="'Liberation Sans', Arial, sans-serif" font-weight="bold" fill="#000" font-size="73" text-anchor="middle">40</text>
<text transform="translate(1059.40,1517.60) scale(1,1.035)" font-family="'Liberation Sans', Arial, sans-serif" font-weight="bold" fill="#000" font-size="73" text-anchor="middle">50</text>
<text transform="translate(1356.60,1517.60) scale(1,1.035)" font-family="'Liberation Sans', Arial, sans-serif" font-weight="bold" fill="#000" font-size="73" text-anchor="middle">60</text>
<text transform="translate(1653.80,1517.60) scale(1,1.035)" font-family="'Liberation Sans', Arial, sans-serif" font-weight="bold" fill="#000" font-size="73" text-anchor="middle">70</text>
<text transform="translate(1951.00,1517.60) scale(1,1.035)" font-family="'Liberation Sans', Arial, sans-serif" font-weight="bold" fill="#000" font-size="73" text-anchor="middle">80</text>
<text transform="translate(813.00,1619.70) scale(1,1.035)" font-family="'Liberation Sans', Arial, sans-serif" font-weight="bold" fill="#000" font-size="90.5">2</text>
<text transform="translate(865.2,1620.2) scale(1.055,1)" x="0" y="0" font-family="'Liberation Serif', 'Times New Roman', serif" font-weight="bold" font-size="88" fill="#000">θ</text>
<text transform="translate(938.00,1619.70) scale(1,1.035)" font-family="'Liberation Sans', Arial, sans-serif" font-weight="bold" fill="#000" font-size="90.5" letter-spacing="0.2">(Degree)</text>
<text transform="translate(110.80,1024.00) rotate(-90) scale(1,1.035)" font-family="'Liberation Sans', Arial, sans-serif" font-weight="bold" fill="#000" font-size="90.5">Intensity (a.u)</text>
<g transform="translate(917.40,383.30) scale(1,1)"><text transform="translate(-3.40,0.00) scale(1,1.02)" font-family="'Liberation Sans', Arial, sans-serif" font-weight="bold" fill="#000" font-size="64" letter-spacing="0.5">(110)</text><text x="147.4" y="2.5" font-family="DejaVu Serif, serif" font-size="61" fill="#000">α</text><text x="189.6" y="10.5" font-family="'Liberation Serif', 'Times New Roman', serif" font-size="81" fill="#000">′</text></g>
<g transform="translate(926.60,671.50) scale(1,1)"><text transform="translate(-3.40,0.00) scale(1,1.02)" font-family="'Liberation Sans', Arial, sans-serif" font-weight="bold" fill="#000" font-size="64" letter-spacing="0.5">(110)</text><text x="147.4" y="2.5" font-family="DejaVu Serif, serif" font-size="61" fill="#000">α</text><text x="189.6" y="10.5" font-family="'Liberation Serif', 'Times New Roman', serif" font-size="81" fill="#000">′</text></g>
<g transform="translate(923.10,937.60) scale(1,1.05)"><text transform="translate(-3.40,0.00) scale(1,1.02)" font-family="'Liberation Sans', Arial, sans-serif" font-weight="bold" fill="#000" font-size="64" letter-spacing="0.5">(110)</text><text x="147.4" y="2.5" font-family="DejaVu Serif, serif" font-size="61" fill="#000">α</text><text x="189.6" y="10.5" font-family="'Liberation Serif', 'Times New Roman', serif" font-size="81" fill="#000">′</text></g>
<g transform="translate(928.50,1165.60) scale(1.029,1.04958)"><text transform="translate(-3.40,0.00) scale(1,1.02)" font-family="'Liberation Sans', Arial, sans-serif" font-weight="bold" fill="#000" font-size="64" letter-spacing="0.5">(110)</text><text x="147.4" y="2.5" font-family="DejaVu Serif, serif" font-size="61" fill="#000">α</text><text x="189.6" y="10.5" font-family="'Liberation Serif', 'Times New Roman', serif" font-size="81" fill="#000">′</text></g>
<g transform="translate(1401.80,534.30) scale(1,1)"><text transform="translate(-3.40,0.00) scale(1,1.02)" font-family="'Liberation Sans', Arial, sans-serif" font-weight="bold" fill="#000" font-size="64" letter-spacing="0.5">(200)</text><text x="147.4" y="2.5" font-family="DejaVu Serif, serif" font-size="61" fill="#000">α</text><text x="189.6" y="10.5" font-family="'Liberation Serif', 'Times New Roman', serif" font-size="81" fill="#000">′</text></g>
<g transform="translate(1409.20,794.00) scale(1,1)"><text transform="translate(-3.40,0.00) scale(1,1.02)" font-family="'Liberation Sans', Arial, sans-serif" font-weight="bold" fill="#000" font-size="64" letter-spacing="0.5">(200)</text><text x="147.4" y="2.5" font-family="DejaVu Serif, serif" font-size="61" fill="#000">α</text><text x="189.6" y="10.5" font-family="'Liberation Serif', 'Times New Roman', serif" font-size="81" fill="#000">′</text></g>
<g transform="translate(1411.80,1019.30) scale(1,1)"><text transform="translate(-3.40,0.00) scale(1,1.02)" font-family="'Liberation Sans', Arial, sans-serif" font-weight="bold" fill="#000" font-size="64" letter-spacing="0.5">(200)</text><text x="147.4" y="2.5" font-family="DejaVu Serif, serif" font-size="61" fill="#000">α</text><text x="189.6" y="10.5" font-family="'Liberation Serif', 'Times New Roman', serif" font-size="81" fill="#000">′</text></g>
<g transform="translate(1416.30,1309.60) scale(1,1)"><text transform="translate(-3.40,0.00) scale(1,1.02)" font-family="'Liberation Sans', Arial, sans-serif" font-weight="bold" fill="#000" font-size="64" letter-spacing="0.5">(200)</text><text x="147.4" y="2.5" font-family="DejaVu Serif, serif" font-size="61" fill="#000">α</text><text x="189.6" y="10.5" font-family="'Liberation Serif', 'Times New Roman', serif" font-size="81" fill="#000">′</text></g>
<g fill="#000">
<rect x="178" y="41" width="677" height="7"/>
<rect x="178" y="331" width="677" height="7"/>
<rect x="178" y="41" width="5" height="297"/>
<rect x="849" y="41" width="6" height="297"/>
</g>
<rect x="197" y="103" width="166.6" height="7" fill="#000"/>
<rect x="516.4" y="103.1" width="168" height="6.7" fill="#F4403F"/>
<rect x="197" y="194" width="165.8" height="6.8" fill="#0F62DE"/>
<rect x="516.4" y="194" width="168" height="6.8" fill="#31AD6A"/>
<rect x="220.7" y="285.6" width="112" height="6.7" fill="#F5852A"/>
<ellipse cx="348.5" cy="288.4" rx="19.4" ry="11" fill="#F5852A"/>
<text transform="translate(380.00,131.40) scale(1,1.06)" font-family="'Liberation Sans', Arial, sans-serif" font-weight="bold" fill="#000" font-size="59">LT-1</text>
<text transform="translate(700.50,131.30) scale(1,1.06)" font-family="'Liberation Sans', Arial, sans-serif" font-weight="bold" fill="#000" font-size="59">LT-2</text>
<text transform="translate(380.00,220.80)" font-family="'Liberation Sans', Arial, sans-serif" font-weight="bold" fill="#000" font-size="59">HT-1</text>
<text transform="translate(700.50,220.80)" font-family="'Liberation Sans', Arial, sans-serif" font-weight="bold" fill="#000" font-size="59">HT-2</text>
<text transform="translate(390.50,315.50) scale(1,1.03)" font-family="'Liberation Sans', Arial, sans-serif" font-weight="bold" fill="#000" font-size="59">JCPDS 65-4899</text>
<g transform="translate(917.40,383.30) scale(1,1)"><rect x="21.44" y="-7.99" width="11.87" height="8.99" fill="#fdfdfd"/><rect x="42.17" y="-7.99" width="11.04" height="8.99" fill="#fdfdfd"/><rect x="57.53" y="-7.99" width="11.87" height="8.99" fill="#fdfdfd"/><rect x="78.25" y="-7.99" width="11.04" height="8.99" fill="#fdfdfd"/></g>
<g transform="translate(926.60,671.50) scale(1,1)"><rect x="21.44" y="-7.99" width="11.87" height="8.99" fill="#fdfdfd"/><rect x="42.17" y="-7.99" width="11.04" height="8.99" fill="#fdfdfd"/><rect x="57.53" y="-7.99" width="11.87" height="8.99" fill="#fdfdfd"/><rect x="78.25" y="-7.99" width="11.04" height="8.99" fill="#fdfdfd"/></g>
<g transform="translate(923.10,937.60) scale(1,1.05)"><rect x="21.44" y="-7.99" width="11.87" height="8.99" fill="#fdfdfd"/><rect x="42.17" y="-7.99" width="11.04" height="8.99" fill="#fdfdfd"/><rect x="57.53" y="-7.99" width="11.87" height="8.99" fill="#fdfdfd"/><rect x="78.25" y="-7.99" width="11.04" height="8.99" fill="#fdfdfd"/></g>
<g transform="translate(928.50,1165.60) scale(1.029,1.04958)"><rect x="21.44" y="-7.99" width="11.87" height="8.99" fill="#fdfdfd"/><rect x="42.17" y="-7.99" width="11.04" height="8.99" fill="#fdfdfd"/><rect x="57.53" y="-7.99" width="11.87" height="8.99" fill="#fdfdfd"/><rect x="78.25" y="-7.99" width="11.04" height="8.99" fill="#fdfdfd"/></g>
<rect x="474.46" y="123.69" width="11.02" height="8.71" fill="#fdfdfd"/><rect x="493.65" y="123.69" width="10.25" height="8.71" fill="#fdfdfd"/>
<rect x="481.01" y="213.45" width="11.02" height="8.35" fill="#fdfdfd"/><rect x="500.19" y="213.45" width="10.25" height="8.35" fill="#fdfdfd"/></svg>
</body></html>
